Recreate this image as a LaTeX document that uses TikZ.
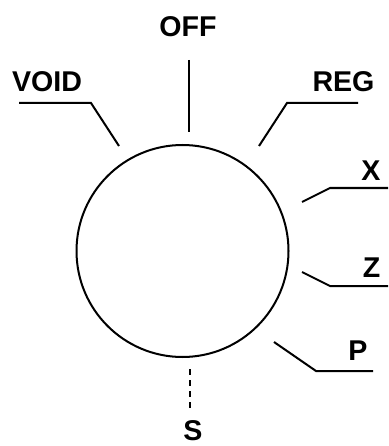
\documentclass[tikz,border=0pt]{standalone}
\usepackage{fontspec}
\setmainfont{Liberation Sans}
\begin{document}
\begin{tikzpicture}[x=1pt,y=-1pt,
  lbl/.style={font=\fontsize{28.6}{30}\selectfont\bfseries, inner sep=0pt, anchor=base},
  lead/.style={line width=2pt, line cap=butt, line join=miter},
  dial/.style={circle, draw, line width=2pt, minimum size=212pt, inner sep=0pt}]
\useasboundingbox (0,0) rectangle (388,446);
\node[dial] (dial) at (182.5,251) {};
% labels
\node[lbl] (off) at (188,37) {OFF};
\node[lbl] (void) at (47,92) {VOID};
\node[lbl] (reg) at (343.5,92) {REG};
\node[lbl] (x) at (371,181) {X};
\node[lbl] (z) at (371.5,277) {Z};
\node[lbl] (p) at (358,360) {P};
\node[lbl] (s) at (193,440) {S};
% leader points
\coordinate (offA) at (189,60);  \coordinate (offB) at (189,132);
\coordinate (voidA) at (19,103); \coordinate (voidB) at (91,103); \coordinate (voidC) at (119,146);
\coordinate (regA) at (358,103); \coordinate (regB) at (287,103); \coordinate (regC) at (259,146);
\coordinate (xA) at (388,188);   \coordinate (xB) at (330,188);   \coordinate (xC) at (302,202);
\coordinate (zA) at (388,286);   \coordinate (zB) at (330,286);   \coordinate (zC) at (302,272);
\coordinate (pA) at (373,371);   \coordinate (pB) at (316,371);   \coordinate (pC) at (274,342);
\coordinate (sA) at (190,369);   \coordinate (sB) at (190,409);
% leaders
\draw[lead] (offA) -- (offB);
\draw[lead] (voidA) -- (voidB) -- (voidC);
\draw[lead] (regA) -- (regB) -- (regC);
\draw[lead] (xA) -- (xB) -- (xC);
\draw[lead] (zA) -- (zB) -- (zC);
\draw[lead] (pA) -- (pB) -- (pC);
\draw[lead, dash pattern=on 6pt off 5pt] (sA) -- (sB);
\end{tikzpicture}
\end{document}
